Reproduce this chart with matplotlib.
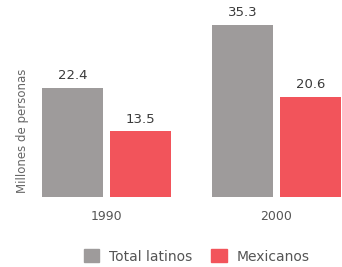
import numpy as np
import matplotlib
matplotlib.use('Agg')
import matplotlib.pyplot as plt
from matplotlib.patches import Patch

years = ['1990', '2000']
series = ['Total latinos', 'Mexicanos']
total_latinos = [22.4, 35.3]
mexicanos = [13.5, 20.6]

gray = '#9e9b9b'
red = '#f2545b'
text_col = '#3a3a3a'

fig = plt.figure(figsize=(3.42, 2.67), dpi=100)
ax = fig.add_axes([0, 0.262, 1, 0.738])

x = np.arange(len(years))
w = 0.355
off = 0.2
b1 = ax.bar(x - off, total_latinos, w, color=gray)
b2 = ax.bar(x + off, mexicanos, w, color=red)

for bars, vals in ((b1, total_latinos), (b2, mexicanos)):
    for b, v in zip(bars, vals):
        ax.text(b.get_x() + b.get_width() / 2, v + 1.2, f'{v:.1f}',
                ha='center', va='bottom', fontsize=9.5, color=text_col)

ax.set_xlim(-0.626, 1.385)
ax.set_ylim(0, 40.5)
ax.axis('off')

for xi, yr in zip(x, years):
    fig.text((xi + 0.626) / 2.011, 0.19, yr, ha='center', va='center',
             fontsize=9, color='#555555')

fig.text(0.065, 0.51, 'Millones de personas', rotation=90, ha='center',
         va='center', fontsize=8.5, color='#666666')

handles = [Patch(color=gray), Patch(color=red)]
fig.legend(handles, series, loc='center', bbox_to_anchor=(0.575, 0.04),
           ncol=2, frameon=False, fontsize=10, handlelength=1.1,
           handleheight=1.1, columnspacing=1.4, handletextpad=0.7,
           labelcolor='#555555')

fig.savefig('out.png', dpi=100)
